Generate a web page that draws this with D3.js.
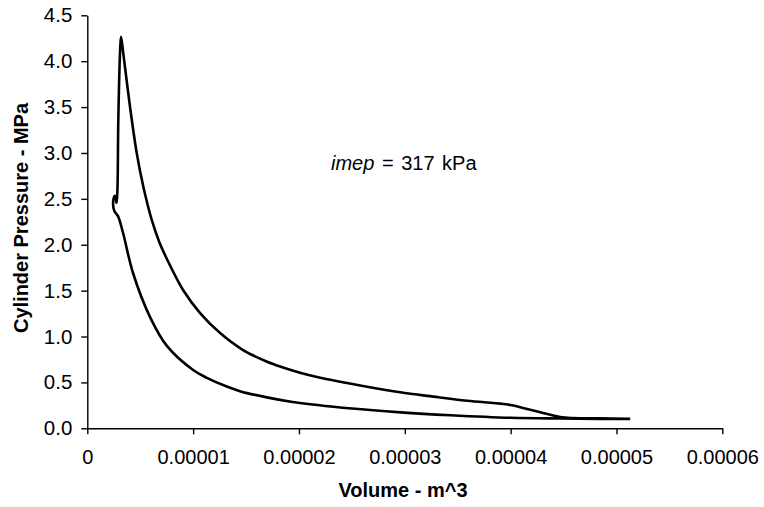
<!DOCTYPE html>
<html>
<head>
<meta charset="utf-8">
<script src="https://cdn.jsdelivr.net/npm/d3@7"></script>
<style>
  body { margin: 0; background: #fff; }
  text { font-family: 'Liberation Sans', Arial, sans-serif; fill: #000; }
</style>
</head>
<body>
<script>
// Data (volume in m^3, pressure in MPa).
const compressionVolume = [5.13e-5, 4.84e-5, 4.47e-5, 4.00e-5, 3.43e-5, 2.96e-5, 2.50e-5, 1.94e-5,
                           1.696e-5, 1.443e-5, 1.318e-5, 1.13e-5, 1.00e-5, 0.754e-5, 0.593e-5, 0.432e-5,
                           0.338e-5, 0.290e-5];
const compressionPressure = [0.101, 0.103, 0.107, 0.115, 0.143, 0.174, 0.215, 0.287,
                             0.337, 0.405, 0.455, 0.55, 0.635, 0.895, 1.212, 1.692,
                             2.128, 2.312];

// Around top dead centre: small hook, then the combustion rise.
const combustionVolume = [0.255e-5, 0.248e-5, 0.262e-5, 0.276e-5, 0.284e-5, 0.293e-5, 0.309e-5, 0.3185e-5];
const combustionPressure = [2.369, 2.50, 2.533, 2.457, 2.574, 3.358, 4.085, 4.266];

const expansionVolume = [0.340e-5, 0.404e-5, 0.467e-5, 0.529e-5, 0.609e-5, 0.680e-5, 0.750e-5, 0.905e-5,
                         1.066e-5, 1.255e-5, 1.472e-5, 1.699e-5, 1.850e-5, 2.010e-5, 2.171e-5, 2.644e-5,
                         2.956e-5, 3.27e-5, 3.59e-5, 4.00e-5, 4.156e-5, 4.307e-5, 4.468e-5, 4.591e-5,
                         4.84e-5, 5.13e-5];
const expansionPressure = [4.085, 3.50, 3.00, 2.635, 2.27, 2.03, 1.85, 1.507,
                           1.256, 1.038, 0.853, 0.725, 0.662, 0.605, 0.559, 0.453,
                           0.392, 0.345, 0.300, 0.254, 0.210, 0.167, 0.123, 0.112,
                           0.108, 0.104];

const xTicks = [0, 0.00001, 0.00002, 0.00003, 0.00004, 0.00005, 0.00006];
const xTickLabels = ['0', '0.00001', '0.00002', '0.00003', '0.00004', '0.00005', '0.00006'];
const yTicks = [0, 0.5, 1.0, 1.5, 2.0, 2.5, 3.0, 3.5, 4.0, 4.5];

// Svg.
const width = 764, height = 507;
const svg = d3.select('body')
              .append('svg')
              .attr('width', width)
              .attr('height', height);

// Plot area.
const plotLeft = 87.3, plotRight = 722.3, plotTop = 15.3, plotBottom = 428.3;

const x = d3.scaleLinear().domain([0, 0.00006]).range([plotLeft, plotRight]);
const y = d3.scaleLinear().domain([0, 4.5]).range([plotBottom, plotTop]);

// x axis.
const xAxis = svg.append('g')
    .attr('transform', `translate(0,${plotBottom})`)
    .call(d3.axisBottom(x).tickValues(xTicks).tickSize(6).tickSizeOuter(0)
        .tickFormat((d, i) => xTickLabels[i]));
xAxis.selectAll('text')
    .style('font-size', '20px')
    .attr('y', 22)
    .attr('dy', '0.71em');

// y axis.
const yAxis = svg.append('g')
    .attr('transform', `translate(${plotLeft},0)`)
    .call(d3.axisLeft(y).tickValues(yTicks).tickSize(6).tickSizeOuter(0)
        .tickFormat(d3.format('.1f')));
yAxis.selectAll('text')
    .style('font-size', '20.5px')
    .attr('x', -15);

svg.selectAll('.domain, .tick line')
    .attr('stroke', '#000')
    .attr('stroke-width', 1.4);

// Axis titles.
svg.append('text')
    .attr('x', 403)
    .attr('y', 497)
    .attr('text-anchor', 'middle')
    .style('font-size', '20px')
    .attr('font-weight', 'bold')
    .text('Volume - m^3');

svg.append('text')
    .attr('transform', 'translate(28,218) rotate(-90)')
    .attr('text-anchor', 'middle')
    .style('font-size', '20px')
    .attr('font-weight', 'bold')
    .text('Cylinder Pressure - MPa');

// Build the cycle from the arrays.
const cycle = [];
compressionVolume.forEach((v, i) => cycle.push([v, compressionPressure[i]]));
combustionVolume.forEach((v, i) => cycle.push([v, combustionPressure[i]]));
expansionVolume.forEach((v, i) => cycle.push([v, expansionPressure[i]]));

const line = d3.line()
    .x(d => x(d[0]))
    .y(d => y(d[1]))
    .curve(d3.curveCatmullRom.alpha(0.5));

svg.append('path')
    .datum(cycle)
    .attr('fill', 'none')
    .attr('stroke', '#000')
    .attr('stroke-width', 2.6)
    .attr('stroke-linejoin', 'round')
    .attr('d', line);

// Annotation.
const note = svg.append('text')
    .attr('x', 331)
    .attr('y', 170)
    .style('font-size', '20px')
    .style('word-spacing', '2px');
note.append('tspan').attr('font-style', 'italic').text('imep');
note.append('tspan').text(' = 317 kPa');
</script>
</body>
</html>
